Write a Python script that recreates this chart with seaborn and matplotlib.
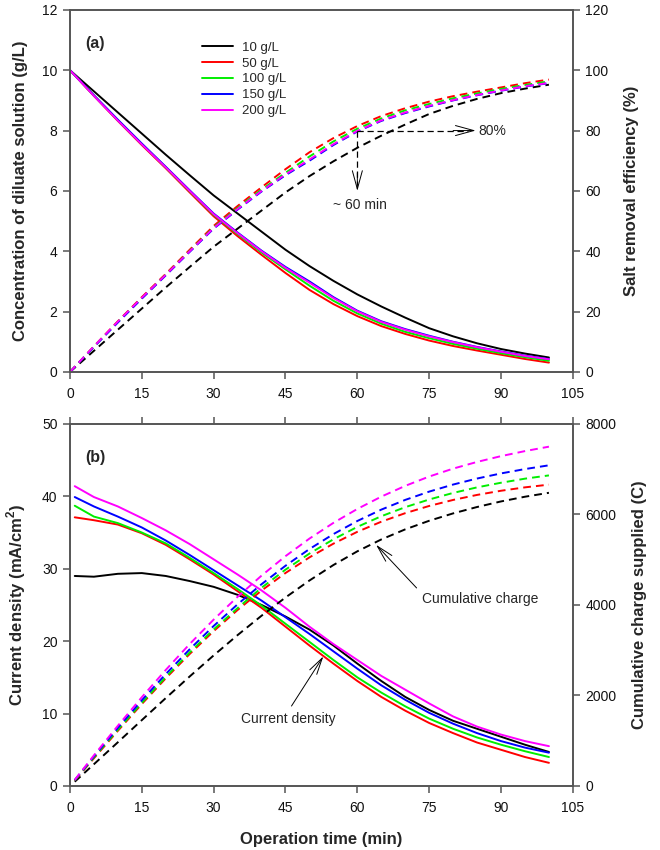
import matplotlib
matplotlib.use("Agg")
import matplotlib.pyplot as plt
import seaborn as sns
import pandas as pd

# feed concentrations (legend entries) and line colours
series_labels = ["10 g/L", "50 g/L", "100 g/L", "150 g/L", "200 g/L"]
series_colors = ["#000000", "#ff0000", "#00ee00", "#0000ff", "#ff00ff"]

# panel (a): diluate concentration (g/L) and salt removal efficiency (%)
time_a = [0, 5, 10, 15, 20, 25, 30, 35, 40, 45, 50, 55, 60, 65, 70, 75, 80, 85, 90, 95, 100]
conc_10 = [10, 9.3, 8.6, 7.9, 7.2, 6.52, 5.85, 5.25, 4.65, 4.05, 3.51, 3.02, 2.57, 2.17, 1.8, 1.45, 1.18, 0.95, 0.76, 0.61, 0.48]
conc_50 = [10, 9.15, 8.32, 7.52, 6.75, 5.95, 5.16, 4.5, 3.88, 3.28, 2.72, 2.25, 1.85, 1.52, 1.26, 1.04, 0.86, 0.71, 0.57, 0.43, 0.31]
conc_100 = [10, 9.16, 8.34, 7.55, 6.78, 5.99, 5.21, 4.57, 3.96, 3.4, 2.86, 2.36, 1.94, 1.6, 1.33, 1.12, 0.93, 0.77, 0.62, 0.49, 0.37]
conc_150 = [10, 9.17, 8.36, 7.57, 6.8, 6.02, 5.25, 4.62, 4.02, 3.48, 3.0, 2.48, 2.03, 1.68, 1.42, 1.2, 1.0, 0.83, 0.68, 0.54, 0.43]
conc_200 = [10, 9.15, 8.33, 7.54, 6.78, 6.0, 5.23, 4.6, 4.0, 3.45, 2.96, 2.45, 2.01, 1.66, 1.4, 1.18, 0.99, 0.82, 0.67, 0.53, 0.42]
eff_10 = [0, 7.0, 14.0, 21.0, 28.0, 34.8, 41.5, 47.5, 53.5, 59.5, 64.9, 69.8, 74.3, 78.3, 82.0, 85.5, 88.2, 90.5, 92.4, 93.9, 95.2]
eff_50 = [0, 8.5, 16.8, 24.8, 32.5, 40.5, 48.4, 55.0, 61.2, 67.2, 72.8, 77.5, 81.5, 84.8, 87.4, 89.6, 91.4, 92.9, 94.3, 95.7, 96.9]
eff_100 = [0, 8.4, 16.6, 24.5, 32.2, 40.1, 47.9, 54.3, 60.4, 66.0, 71.4, 76.4, 80.6, 84.0, 86.7, 88.8, 90.7, 92.3, 93.8, 95.1, 96.3]
eff_150 = [0, 8.3, 16.4, 24.3, 32.0, 39.8, 47.5, 53.8, 59.8, 65.2, 70.0, 75.2, 79.7, 83.2, 85.8, 88.0, 90.0, 91.7, 93.2, 94.6, 95.7]
eff_200 = [0, 8.5, 16.7, 24.6, 32.2, 40.0, 47.7, 54.0, 60.0, 65.5, 70.4, 75.5, 79.9, 83.4, 86.0, 88.2, 90.1, 91.8, 93.3, 94.7, 95.8]

# panel (b): current density (mA/cm2) and cumulative charge (C)
time_b = [1, 5, 10, 15, 20, 25, 30, 35, 40, 45, 50, 55, 60, 65, 70, 75, 80, 85, 90, 95, 100]
cd_10 = [29.0, 28.9, 29.3, 29.4, 29.0, 28.3, 27.5, 26.4, 25.0, 23.4, 21.6, 19.4, 16.9, 14.5, 12.3, 10.5, 9.0, 7.9, 6.8, 5.7, 4.7]
cd_50 = [37.1, 36.7, 36.1, 34.9, 33.3, 31.3, 29.2, 26.9, 24.6, 22.0, 19.4, 16.9, 14.5, 12.3, 10.4, 8.7, 7.3, 6.0, 5.0, 4.0, 3.2]
cd_100 = [38.7, 37.2, 36.3, 35.0, 33.5, 31.5, 29.4, 27.2, 24.9, 22.4, 19.9, 17.4, 15.0, 12.9, 11.0, 9.3, 7.9, 6.7, 5.7, 4.8, 4.0]
cd_150 = [39.9, 38.6, 37.2, 35.7, 33.9, 31.9, 29.8, 27.7, 25.6, 23.3, 21.0, 18.6, 16.2, 13.9, 11.9, 10.1, 8.6, 7.3, 6.2, 5.3, 4.6]
cd_200 = [41.4, 39.9, 38.6, 37.0, 35.3, 33.4, 31.3, 29.2, 27.0, 24.6, 22.0, 19.6, 17.4, 15.2, 13.3, 11.4, 9.6, 8.2, 7.1, 6.2, 5.5]
charge_10 = [95, 481, 966, 1455, 1942, 2420, 2885, 3334, 3762, 4165, 4540, 4882, 5185, 5447, 5670, 5860, 6023, 6164, 6287, 6391, 6478]
charge_50 = [120, 612, 1219, 1811, 2379, 2917, 3421, 3889, 4318, 4706, 5051, 5354, 5616, 5839, 6028, 6187, 6320, 6431, 6523, 6598, 6658]
charge_100 = [125, 631, 1244, 1838, 2409, 2951, 3459, 3931, 4380, 4780, 5135, 5450, 5725, 5960, 6160, 6330, 6475, 6598, 6700, 6790, 6862]
charge_150 = [130, 653, 1285, 1893, 2473, 3021, 3535, 4014, 4458, 4866, 5235, 5565, 5855, 6106, 6321, 6504, 6660, 6793, 6906, 7002, 7085]
charge_200 = [135, 677, 1331, 1961, 2564, 3137, 3676, 4180, 4648, 5078, 5466, 5813, 6121, 6393, 6631, 6837, 7012, 7160, 7288, 7399, 7497]

x_ticks = [0, 15, 30, 45, 60, 75, 90, 105]


def long_frame(t, cols_left, cols_right, left_name, right_name):
    rows = []
    for lab, yl, yr in zip(series_labels, cols_left, cols_right):
        rows.append(pd.DataFrame({"time": t, left_name: yl, right_name: yr, "series": lab}))
    return pd.concat(rows, ignore_index=True)


df_a = long_frame(time_a, [conc_10, conc_50, conc_100, conc_150, conc_200],
                  [eff_10, eff_50, eff_100, eff_150, eff_200], "conc", "eff")
df_b = long_frame(time_b, [cd_10, cd_50, cd_100, cd_150, cd_200],
                  [charge_10, charge_50, charge_100, charge_150, charge_200], "cd", "charge")

sns.set_theme(style="ticks")
plt.rcParams["font.family"] = ["Liberation Sans", "DejaVu Sans"]
plt.rcParams["mathtext.fontset"] = "custom"
plt.rcParams["mathtext.bf"] = "Liberation Sans:bold"
plt.rcParams["mathtext.rm"] = "Liberation Sans"

SPINE = "#555555"
LW = 1.4
DASH = (0, (4, 2.6))
LABEL_FS = 12

fig = plt.figure(figsize=(6.6, 8.5), dpi=100)
ax_a = fig.add_axes([0.106, 0.5624, 0.762, 0.426])
ax_b = fig.add_axes([0.106, 0.0753, 0.762, 0.426])


def style_axes(ax, axr, top_ticks):
    for a in (ax, axr):
        for s in a.spines.values():
            s.set_color(SPINE)
            s.set_linewidth(1.2)
        a.tick_params(direction="out", length=5, width=1.1, color=SPINE,
                      labelsize=10, labelcolor="#111111", pad=4)
    ax.tick_params(axis="x", pad=6)
    ax.set_xlim(0, 105)
    ax.set_xticks(x_ticks)
    ax.tick_params(axis="x", top=top_ticks, labeltop=False)
    axr.tick_params(axis="x", top=False, bottom=False)


# ---- panel (a) ----
sns.lineplot(data=df_a, x="time", y="conc", hue="series", hue_order=series_labels,
             palette=series_colors, lw=LW, legend=False, ax=ax_a, sort=False)
ax_ar = ax_a.twinx()
sns.lineplot(data=df_a, x="time", y="eff", hue="series", hue_order=series_labels,
             palette=series_colors, lw=LW, legend=False, ax=ax_ar, sort=False)
for ln in ax_ar.lines:
    ln.set_linestyle(DASH)

ax_a.set_ylim(0, 12)
ax_a.set_yticks(range(0, 13, 2))
ax_ar.set_ylim(0, 120)
ax_ar.set_yticks(range(0, 121, 20))
ax_a.set_xlabel("")
ax_a.set_ylabel("Concentration of diluate solution (g/L)", fontsize=LABEL_FS, fontweight="bold", labelpad=10)
ax_ar.set_ylabel("Salt removal efficiency (%)", fontsize=LABEL_FS, fontweight="bold", labelpad=11)
style_axes(ax_a, ax_ar, False)

ax_a.text(5.3, 10.9, "(a)", fontsize=11.5, fontweight="bold", ha="center", va="center")
ax_a.legend(ax_a.lines[:5], series_labels, loc="upper left", bbox_to_anchor=(0.262, 0.913),
            frameon=False, fontsize=9.5, handlelength=2.4, handletextpad=0.65,
            labelspacing=0.28, borderpad=0, borderaxespad=0)

# 80 % guide lines
ax_ar.plot([60, 83], [80, 80], color="black", lw=0.9, ls=(0, (5, 3)))
ax_ar.plot([60, 60], [80, 62], color="black", lw=0.9, ls=(0, (5, 3)))
head = "->,head_length=1.1,head_width=0.3"
ax_ar.annotate("", xy=(84.7, 80), xytext=(80, 80),
               arrowprops=dict(arrowstyle=head, lw=0.7, color="black", shrinkA=0, shrinkB=0))
ax_ar.annotate("", xy=(60, 60), xytext=(60, 66),
               arrowprops=dict(arrowstyle=head, lw=0.7, color="black", shrinkA=0, shrinkB=0))
ax_ar.text(85.2, 80, "80%", fontsize=10, ha="left", va="center")
ax_ar.text(60.5, 55.2, "~ 60 min", fontsize=10, ha="center", va="center")

# ---- panel (b) ----
sns.lineplot(data=df_b, x="time", y="cd", hue="series", hue_order=series_labels,
             palette=series_colors, lw=LW, legend=False, ax=ax_b, sort=False)
ax_br = ax_b.twinx()
sns.lineplot(data=df_b, x="time", y="charge", hue="series", hue_order=series_labels,
             palette=series_colors, lw=LW, legend=False, ax=ax_br, sort=False)
for ln in ax_br.lines:
    ln.set_linestyle(DASH)

ax_b.set_ylim(0, 50)
ax_b.set_yticks(range(0, 51, 10))
ax_br.set_ylim(0, 8000)
ax_br.set_yticks(range(0, 8001, 2000))
ax_b.set_xlabel("Operation time (min)", fontsize=LABEL_FS, fontweight="bold", labelpad=12)
ax_b.set_ylabel(r"Current density (mA/cm$^\mathbf{2}$)", fontsize=LABEL_FS, fontweight="bold", labelpad=10)
ax_br.set_ylabel("Cumulative charge supplied (C)", fontsize=LABEL_FS, fontweight="bold", labelpad=11)
style_axes(ax_b, ax_br, True)

ax_b.text(5.3, 45.3, "(b)", fontsize=11.5, fontweight="bold", ha="center", va="center")

arrow_b = "->,head_length=1.2,head_width=0.3"
ax_b.annotate("Current density", xy=(52.9, 17.9), xytext=(45.5, 9.3),
              fontsize=10, ha="center", va="center",
              arrowprops=dict(arrowstyle=arrow_b, lw=0.7, color="black",
                              relpos=(0.5, 1.0), shrinkA=2, shrinkB=0))
ax_br.annotate("Cumulative charge", xy=(63.9, 5330), xytext=(85.6, 4130),
               fontsize=10, ha="center", va="center",
               arrowprops=dict(arrowstyle=arrow_b, lw=0.7, color="black",
                               relpos=(0.0, 0.9), shrinkA=2, shrinkB=0))

fig.savefig("out.png", dpi=100)
plt.close(fig)
